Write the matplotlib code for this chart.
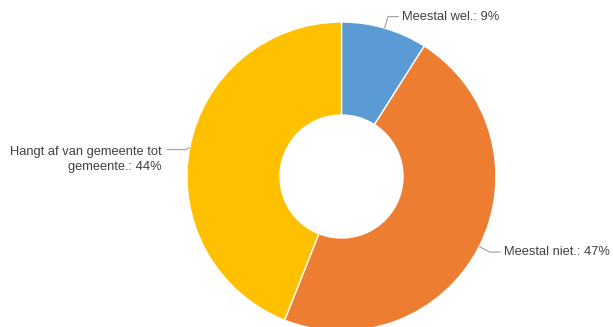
import numpy as np
import matplotlib
matplotlib.use("Agg")
import matplotlib.pyplot as plt

# Survey answers and their shares (percent)
labels = ["Meestal wel.", "Meestal niet.", "Hangt af van gemeente tot\ngemeente."]
values = [9, 47, 44]
colors = ["#5B9BD5", "#ED7D31", "#FFC000"]

W, H = 613, 327
fig = plt.figure(figsize=(W / 100, H / 100), dpi=100)
ax = fig.add_axes([0, 0, 1, 1])

cx, cy = 341.5, H - 176.5
R = 154.5
hole = 61.5

wedges, _ = ax.pie(values, colors=colors, startangle=90, counterclock=False,
                   center=(cx, cy), radius=R, frame=True,
                   wedgeprops=dict(width=R - hole, edgecolor="white", linewidth=1))
ax.set_xlim(0, W)
ax.set_ylim(0, H)
ax.set_aspect("equal")
ax.axis("off")

text_color = "#404040"
line_color = "#A6A6A6"
fs = 9.3
for w, lab, v in zip(wedges, labels, values):
    ang = np.deg2rad((w.theta1 + w.theta2) / 2)
    x0, y0 = cx + R * np.cos(ang), cy + R * np.sin(ang)
    side = 1 if np.cos(ang) >= 0 else -1
    txt = f"{lab}: {v}%"
    if side > 0:
        x1, y1 = cx + (R + 12) * np.cos(ang), cy + (R + 12) * np.sin(ang)
        x2 = x1 + 11
        ax.plot([x0, x1, x2], [y0, y1, y1], color=line_color, lw=0.9,
                solid_capstyle="butt")
        ax.text(x2 + 3, y1, txt, ha="left", va="center", fontsize=fs,
                color=text_color, family="Liberation Sans")
    else:
        x1, y1 = cx + (R + 4) * np.cos(ang), y0 - 2
        x2 = x1 - 19
        ax.plot([x0, x1, x2], [y0, y1, y1], color=line_color, lw=0.9,
                solid_capstyle="butt")
        ax.text(x2 - 5, y1 + 4, txt, ha="right", va="top", fontsize=fs,
                color=text_color, family="Liberation Sans", linespacing=1.4,
                multialignment="right")

fig.savefig("out.png", dpi=100)
